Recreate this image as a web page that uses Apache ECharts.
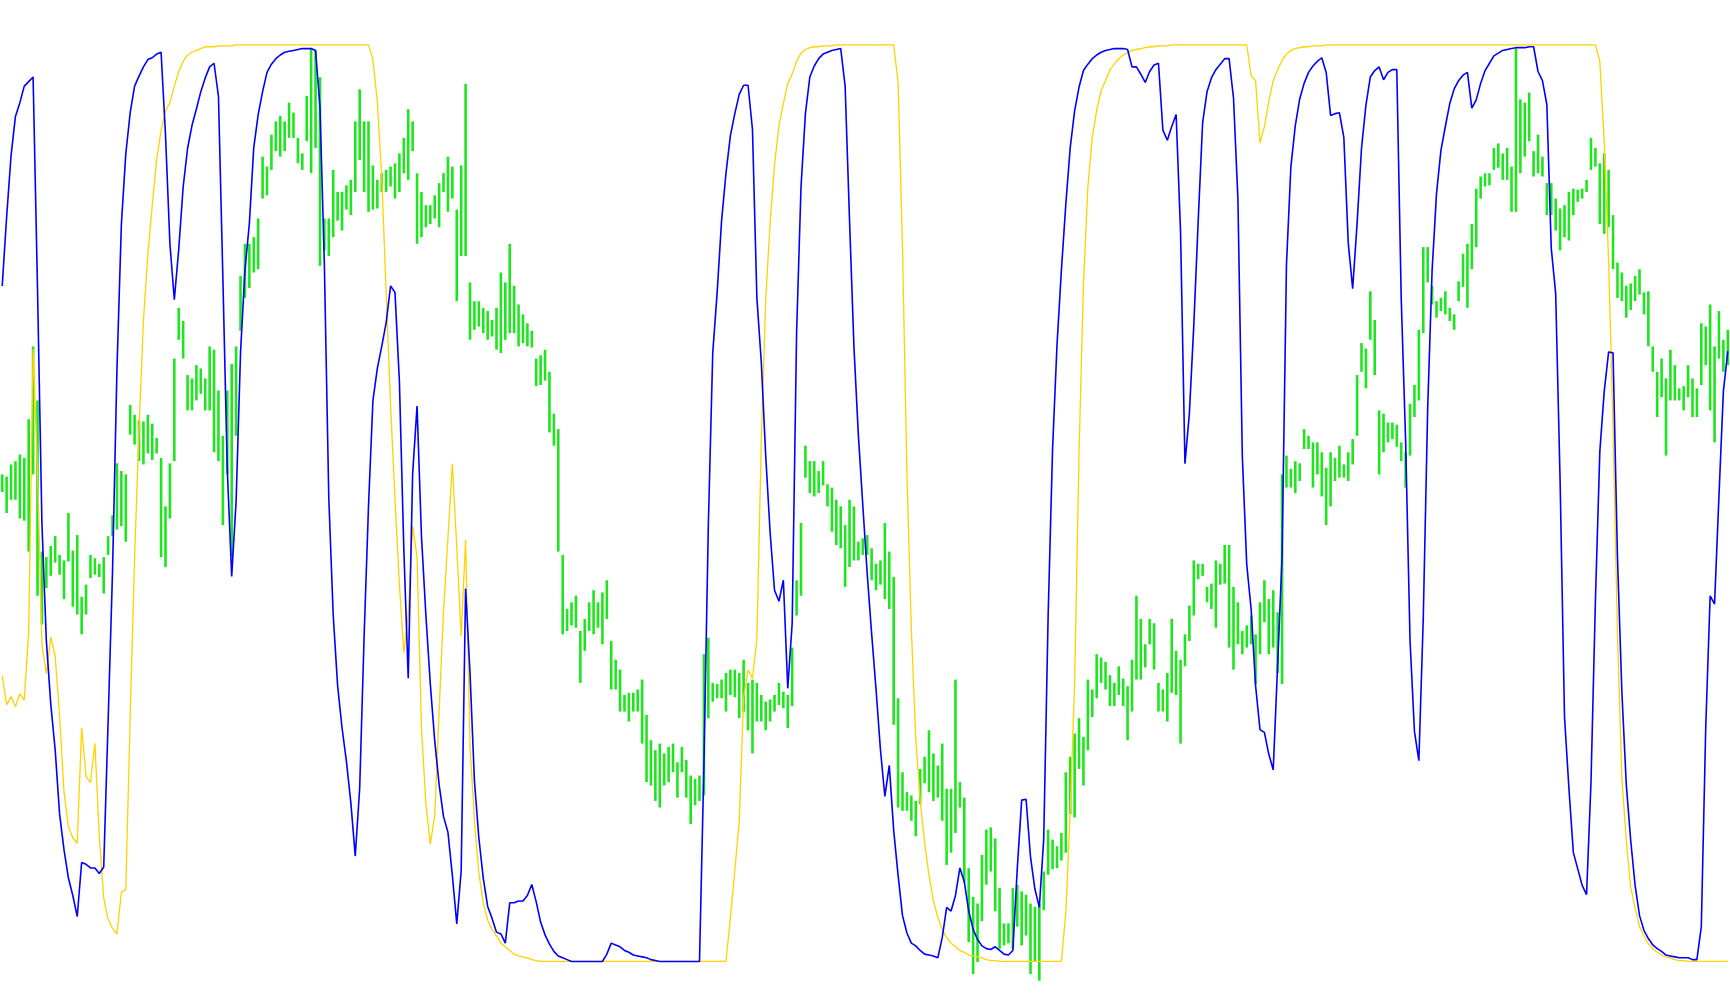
<!DOCTYPE html>
<html>
<head>
<meta charset="utf-8">
<script src="https://cdn.jsdelivr.net/npm/echarts@6/dist/echarts.min.js"></script>
<style>
html,body{margin:0;padding:0;background:#fff;}
#chart{width:1730px;height:1005px;}
</style>
</head>
<body>
<div id="chart"></div>
<script>
// Oscillator lines (0-100 scale), one value per bar
const blueLine = [
73.7,81.2,87.9,92.2,93.7,95.5,96.0,96.5,73.4,47.8,
35.0,28.1,23.1,16.1,12.2,9.1,7.2,4.9,10.8,10.6,
10.2,10.2,9.6,10.3,26.2,42.6,64.6,80.4,88.1,92.6,
95.5,96.6,97.6,98.4,98.6,99.0,99.2,90.2,78.3,72.2,
77.7,84.5,88.7,91.2,93.0,94.9,96.4,97.6,98.0,94.4,
74.6,53.7,42.0,50.2,66.4,75.4,80.5,88.8,92.4,94.9,
97.0,97.9,98.5,98.9,99.2,99.3,99.4,99.5,99.6,99.6,
99.6,99.4,93.3,76.0,50.6,37.8,30.1,25.5,21.8,17.3,
11.5,18.9,35.4,49.7,61.2,64.7,67.1,69.7,73.7,73.0,
63.3,45.0,30.9,53.2,60.6,46.4,37.8,30.3,24.1,19.3,
15.8,14.1,9.4,4.1,9.9,40.7,31.5,19.7,13.5,9.1,
6.0,4.7,3.2,3.0,2.0,6.4,6.4,6.6,6.6,7.2,
8.4,6.5,4.3,2.9,1.9,1.1,0.6,0.4,0.2,0,
0,0,0,0,0,0,0,0.8,2.0,1.8,
1.6,1.2,1.0,0.7,0.6,0.5,0.4,0.2,0.1,0,
0,0,0,0,0,0,0,0,0,21.5,
47.6,66.4,73.0,80.8,86.0,90.1,92.5,94.6,95.6,95.6,
90.8,72.4,65.4,55.2,46.8,40.5,39.3,41.6,29.8,36.9,
68.6,84.5,92.5,96.5,97.7,98.5,99.0,99.2,99.4,99.5,
99.6,95.5,80.8,67.0,57.4,49.8,42.3,35.8,29.7,23.1,
18.0,21.4,14.3,9.4,5.0,3.1,2.0,1.7,1.2,0.8,
0.7,0.6,0.4,2.6,5.9,5.5,7.2,10.2,8.7,5.5,
3.5,2.4,1.7,1.4,1.3,1.6,1.2,0.8,0.7,1.2,
10.1,17.6,17.7,11.4,7.9,5.9,13.4,37.8,55.9,67.2,
75.4,82.6,88.8,92.8,95.4,97.2,97.9,98.5,98.9,99.2,
99.4,99.5,99.6,99.6,99.6,99.5,97.6,97.6,96.8,95.9,
97.1,97.8,98.0,90.7,89.6,91.1,92.4,79.6,54.3,59.8,
69.4,80.8,91.5,94.9,96.4,97.3,97.9,98.5,98.5,94.2,
83.2,55.1,43.3,38.4,30.1,25.3,25.0,22.6,20.9,32.4,
44.1,76.0,86.7,91.2,94.1,95.8,97.0,97.7,98.2,98.6,
97.0,92.3,92.5,92.6,89.9,78.4,73.4,80.5,88.7,93.4,
96.5,97.2,97.6,96.2,97.0,97.3,97.3,72.4,56.8,35.0,
25.1,21.9,37.5,60.4,75.4,83.8,88.5,91.1,93.6,95.2,
96.1,96.7,97.0,93.1,94.0,95.8,97.2,98.0,98.8,99.1,
99.4,99.5,99.6,99.7,99.7,99.7,99.8,99.8,97.1,96.1,
93.5,77.8,72.9,52.5,26.7,18.9,11.9,10.1,8.3,7.3,
19.5,39.3,55.6,62.2,66.5,66.4,44.1,29.4,19.3,13.2,
8.3,5.0,3.4,2.5,1.8,1.4,1.1,0.7,0.6,0.5,
0.4,0.4,0.4,0.2,0.2,3.8,25.5,39.9,39.0,50.8,
62.2,66.6
];

const yellowLine = [
31.2,28.0,28.9,27.8,29.2,28.5,36.0,66.8,53.7,34.6,
31.4,35.4,33.3,26.8,18.5,14.7,13.5,12.9,25.5,20.2,
19.5,23.8,13.7,6.9,4.6,3.6,3.0,7.6,7.8,26.7,
44.1,58.0,69.9,77.1,82.5,87.5,90.7,92.8,93.7,95.5,
97.1,98.2,98.9,99.2,99.4,99.6,99.8,99.8,99.8,99.9,
99.9,99.9,99.9,100,100,100,100,100,100,100,
100,100,100,100,100,100,100,100,100,100,
100,100,100,100,100,100,100,100,100,100,
100,100,100,100,98.4,93.8,85.6,73.0,60.7,50.4,
41.1,33.7,37.8,47.5,44.1,25.5,17.2,12.8,15.9,27.3,
38.3,46.2,54.3,45.2,35.5,46.0,23.5,15.4,9.7,6.4,
4.5,3.5,2.8,2.0,1.6,1.2,0.8,0.6,0.5,0.4,
0.2,0.1,0,0,0,0,0,0,0,0,
0,0,0,0,0,0,0,0,0,0,
0,0,0,0,0,0,0,0,0,0,
0,0,0,0,0,0,0,0,0,0,
0,0,0,0,0,4.8,9.9,15.3,28.8,31.8,
30.9,35.1,56.8,72.2,80.6,86.9,91.2,93.6,95.8,96.8,
98.2,99.1,99.5,99.7,99.8,99.8,99.9,99.9,99.9,100,
100,100,100,100,100,100,100,100,100,100,
100,100,100,95.9,77.8,53.2,36.3,24.3,17.6,13.0,
9.4,6.6,4.8,3.5,2.6,2.0,1.6,1.2,1.0,0.7,
0.6,0.5,0.4,0.2,0.1,0.1,0,0,0,0,
0,0,0,0,0,0,0,0,0,0,
0,5.3,16.4,30.3,55.6,73.9,84.5,89.9,92.9,95.0,
96.1,97.3,97.9,98.5,98.9,99.1,99.4,99.5,99.6,99.7,
99.8,99.8,99.9,99.9,99.9,100,100,100,100,100,
100,100,100,100,100,100,100,100,100,100,
100,100,100,96.6,96.1,89.3,91.1,93.8,96.1,97.3,
98.3,99.0,99.4,99.6,99.7,99.8,99.8,99.9,99.9,99.9,
100,100,100,100,100,100,100,100,100,100,
100,100,100,100,100,100,100,100,100,100,
100,100,100,100,100,100,100,100,100,100,
100,100,100,100,100,100,100,100,100,100,
100,100,100,100,100,100,100,100,100,100,
100,100,100,100,100,100,100,100,100,100,
100,100,98.2,89.4,76.3,58.3,35.7,20.0,13.2,8.1,
5.8,3.8,2.8,1.9,1.4,1.0,0.7,0.5,0.4,0.2,
0.1,0.1,0,0,0,0,0,0,0,0,
0,0
];

// Price bars: high and low of each bar
const priceHigh = [
1.0770,1.0768,1.0779,1.0782,1.0788,1.0785,1.0820,1.0886,1.0837,1.0700,
1.0695,1.0705,1.0714,1.0697,1.0692,1.0735,1.0701,1.0715,1.0659,1.0670,
1.0697,1.0694,1.0689,1.0695,1.0714,1.0733,1.0780,1.0773,1.0770,1.0833,
1.0824,1.0819,1.0818,1.0824,1.0816,1.0803,1.0785,1.0741,1.0780,1.0875,
1.0921,1.0909,1.0860,1.0857,1.0869,1.0866,1.0857,1.0886,1.0883,1.0846,
1.0805,1.0846,1.0870,1.0886,1.0950,1.0979,1.0979,1.0985,1.1002,1.1058,
1.1049,1.1078,1.1090,1.1095,1.1090,1.1107,1.1098,1.1075,1.1061,1.1113,
1.1156,1.1154,1.1130,1.1002,1.1002,1.1046,1.1026,1.1026,1.1032,1.1037,
1.1090,1.1119,1.1090,1.1090,1.1050,1.1037,1.1043,1.1046,1.1049,1.1052,
1.1061,1.1075,1.1101,1.1090,1.1043,1.1026,1.1014,1.1014,1.1023,1.1034,
1.1043,1.1058,1.1049,1.1010,1.1050,1.1124,1.0944,1.0927,1.0927,1.0921,
1.0918,1.0910,1.0921,1.0953,1.0944,1.0979,1.0941,1.0924,1.0915,1.0907,
1.0900,1.0875,1.0878,1.0883,1.0863,1.0825,1.0811,1.0697,1.0648,1.0654,
1.0660,1.0628,1.0639,1.0654,1.0665,1.0654,1.0663,1.0674,1.0619,1.0602,
1.0593,1.0570,1.0572,1.0572,1.0575,1.0584,1.0552,1.0529,1.0520,1.0526,
1.0517,1.0523,1.0526,1.0509,1.0523,1.0511,1.0497,1.0494,1.0497,1.0607,
1.0622,1.0581,1.0580,1.0584,1.0590,1.0593,1.0593,1.0590,1.0602,1.0581,
1.0584,1.0581,1.0570,1.0564,1.0566,1.0570,1.0581,1.0573,1.0570,1.0613,
1.0674,1.0726,1.0796,1.0782,1.0782,1.0773,1.0782,1.0761,1.0758,1.0747,
1.0741,1.0724,1.0747,1.0741,1.0709,1.0712,1.0715,1.0703,1.0689,1.0692,
1.0726,1.0700,1.0677,1.0567,1.0500,1.0482,1.0479,1.0474,1.0503,1.0514,
1.0538,1.0517,1.0506,1.0526,1.0485,1.0485,1.0584,1.0491,1.0477,1.0413,
1.0387,1.0381,1.0425,1.0448,1.0450,1.0440,1.0395,1.0363,1.0363,1.0395,
1.0398,1.0392,1.0389,1.0381,1.0378,1.0381,1.0410,1.0448,1.0439,1.0433,
1.0445,1.0500,1.0514,1.0535,1.0549,1.0532,1.0584,1.0575,1.0607,1.0604,
1.0600,1.0588,1.0581,1.0596,1.0585,1.0578,1.0602,1.0660,1.0639,1.0616,
1.0639,1.0635,1.0581,1.0575,1.0590,1.0639,1.0610,1.0602,1.0625,1.0651,
1.0692,1.0689,1.0689,1.0668,1.0671,1.0692,1.0689,1.0706,1.0706,1.0668,
1.0654,1.0628,1.0633,1.0642,1.0625,1.0654,1.0674,1.0657,1.0665,1.0645,
1.0770,1.0787,1.0775,1.0782,1.0780,1.0811,1.0805,1.0799,1.0799,1.0790,
1.0776,1.0790,1.0785,1.0796,1.0779,1.0790,1.0802,1.0860,1.0889,1.0884,
1.0936,1.0910,1.0828,1.0825,1.0817,1.0817,1.0815,1.0799,1.0790,1.0834,
1.0851,1.0901,1.0976,1.0976,1.0941,1.0927,1.0930,1.0936,1.0921,1.0915,
1.0945,1.0970,1.0979,1.0997,1.1029,1.1040,1.1043,1.1043,1.1066,1.1070,
1.1061,1.1066,1.1049,1.1156,1.1110,1.1107,1.1116,1.1063,1.1078,1.1058,
1.1034,1.1034,1.1020,1.1011,1.1014,1.1026,1.1029,1.1028,1.1029,1.1037,
1.1075,1.1066,1.1052,1.1061,1.1046,1.1005,1.0962,1.0953,1.0941,1.0943,
1.0950,1.0956,1.0935,1.0936,1.0886,1.0863,1.0875,1.0857,1.0883,1.0869,
1.0848,1.0850,1.0869,1.0857,1.0848,1.0907,1.0904,1.0924,1.0886,1.0918,
1.0892,1.0901
];

const priceLow = [
1.0754,1.0735,1.0747,1.0747,1.0730,1.0728,1.0700,1.0770,1.0660,1.0634,
1.0667,1.0678,1.0690,1.0679,1.0657,1.0691,1.0650,1.0643,1.0625,1.0643,
1.0676,1.0679,1.0677,1.0662,1.0697,1.0714,1.0720,1.0723,1.0709,1.0806,
1.0797,1.0782,1.0779,1.0789,1.0783,1.0789,1.0695,1.0686,1.0730,1.0782,
1.0892,1.0875,1.0828,1.0828,1.0837,1.0843,1.0828,1.0828,1.0790,1.0782,
1.0724,1.0770,1.0695,1.0805,1.0900,1.0930,1.0939,1.0953,1.0956,1.1020,
1.1023,1.1046,1.1063,1.1058,1.1063,1.1075,1.1075,1.1052,1.1046,1.1072,
1.1043,1.1066,1.0959,1.0973,1.0968,1.0985,1.1000,1.0991,1.1010,1.1005,
1.1026,1.1055,1.1026,1.1008,1.1010,1.1011,1.1026,1.1026,1.1031,1.1020,
1.1026,1.1043,1.1037,1.1063,1.0979,1.0985,1.0994,1.0997,1.1002,1.0994,
1.1026,1.1008,1.1020,1.0927,1.0968,1.0968,1.0892,1.0901,1.0904,1.0898,
1.0892,1.0895,1.0883,1.0880,1.0892,1.0898,1.0898,1.0886,1.0889,1.0886,
1.0885,1.0850,1.0851,1.0855,1.0808,1.0796,1.0700,1.0625,1.0628,1.0633,
1.0631,1.0581,1.0610,1.0628,1.0625,1.0631,1.0616,1.0639,1.0575,1.0575,
1.0555,1.0555,1.0546,1.0555,1.0555,1.0526,1.0491,1.0488,1.0474,1.0468,
1.0488,1.0491,1.0500,1.0477,1.0500,1.0477,1.0453,1.0470,1.0474,1.0479,
1.0549,1.0564,1.0567,1.0567,1.0555,1.0570,1.0568,1.0549,1.0555,1.0538,
1.0517,1.0546,1.0546,1.0538,1.0546,1.0555,1.0561,1.0558,1.0540,1.0560,
1.0642,1.0660,1.0767,1.0753,1.0750,1.0753,1.0760,1.0741,1.0718,1.0706,
1.0703,1.0668,1.0686,1.0692,1.0692,1.0697,1.0697,1.0674,1.0665,1.0670,
1.0657,1.0648,1.0543,1.0468,1.0465,1.0465,1.0456,1.0442,1.0471,1.0490,
1.0482,1.0474,1.0477,1.0456,1.0416,1.0427,1.0445,1.0468,1.0400,1.0346,
1.0317,1.0328,1.0365,1.0398,1.0410,1.0374,1.0340,1.0343,1.0345,1.0340,
1.0360,1.0343,1.0352,1.0317,1.0328,1.0311,1.0375,1.0407,1.0412,1.0413,
1.0420,1.0427,1.0462,1.0459,1.0503,1.0488,1.0520,1.0550,1.0567,1.0581,
1.0575,1.0560,1.0560,1.0570,1.0560,1.0529,1.0555,1.0584,1.0584,1.0595,
1.0616,1.0593,1.0555,1.0555,1.0546,1.0572,1.0570,1.0526,1.0596,1.0619,
1.0642,1.0675,1.0678,1.0654,1.0648,1.0631,1.0670,1.0671,1.0613,1.0593,
1.0616,1.0607,1.0613,1.0616,1.0580,1.0607,1.0636,1.0607,1.0613,1.0590,
1.0580,1.0758,1.0758,1.0753,1.0764,1.0793,1.0793,1.0758,1.0770,1.0750,
1.0724,1.0741,1.0764,1.0767,1.0767,1.0764,1.0779,1.0805,1.0863,1.0848,
1.0892,1.0860,1.0770,1.0790,1.0799,1.0802,1.0795,1.0782,1.0758,1.0787,
1.0822,1.0837,1.0898,1.0944,1.0924,1.0912,1.0918,1.0915,1.0909,1.0901,
1.0927,1.0940,1.0921,1.0956,1.0976,1.1020,1.1031,1.1032,1.1046,1.1048,
1.1037,1.1037,1.1008,1.1008,1.1043,1.1058,1.1072,1.1040,1.1043,1.1040,
1.1005,1.1005,1.0991,1.0973,1.0985,1.0982,1.1005,1.1017,1.1020,1.1026,
1.1046,1.1049,1.0997,1.0988,1.0994,1.0956,1.0930,1.0927,1.0912,1.0919,
1.0927,1.0933,1.0915,1.0886,1.0863,1.0822,1.0840,1.0787,1.0837,1.0837,
1.0837,1.0828,1.0840,1.0822,1.0822,1.0851,1.0869,1.0828,1.0799,1.0875,
1.0863,1.0869
];

const chart = echarts.init(document.getElementById('chart'), null, {renderer: 'canvas'});

const barData = priceHigh.map((h, i) => [i, h, priceLow[i]]);
const blueData = blueLine.map((v, i) => [i, v]);
const yellowData = yellowLine.map((v, i) => [i, v]);
const n = priceHigh.length;

chart.setOption({
  animation: false,
  backgroundColor: '#ffffff',
  grid: {left: 0, right: 0, top: 0, bottom: 0},
  xAxis: {type: 'value', min: -0.5, max: n - 0.5, show: false},
  yAxis: [
    {type: 'value', min: -4.75, max: 104.9, show: false},
    {type: 'value', min: 1.0289, max: 1.12, show: false}
  ],
  series: [
    {
      type: 'custom',
      yAxisIndex: 1,
      silent: true,
      encode: {x: 0, y: [1, 2]},
      data: barData,
      renderItem: function (params, api) {
        const x = api.value(0);
        const p1 = api.coord([x, api.value(1)]);
        const p2 = api.coord([x, api.value(2)]);
        return {
          type: 'line',
          shape: {x1: p1[0], y1: p1[1], x2: p2[0], y2: p2[1]},
          style: {stroke: '#1ee61e', lineWidth: 2.6}
        };
      },
      z: 1
    },
    {
      type: 'line',
      yAxisIndex: 0,
      data: yellowData,
      showSymbol: false,
      silent: true,
      lineStyle: {color: '#ffd200', width: 1.3},
      z: 2
    },
    {
      type: 'line',
      yAxisIndex: 0,
      data: blueData,
      showSymbol: false,
      silent: true,
      lineStyle: {color: '#0000ff', width: 1.6},
      z: 3
    }
  ]
});
</script>
</body>
</html>
